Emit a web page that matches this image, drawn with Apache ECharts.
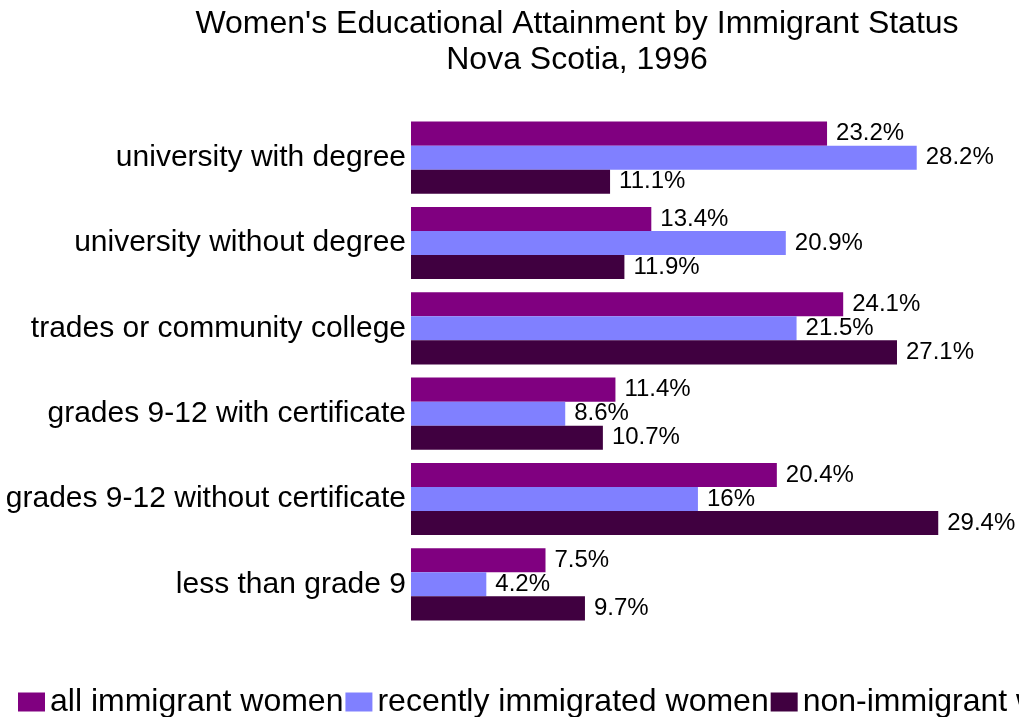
<!DOCTYPE html>
<html>
<head>
<meta charset="utf-8">
<script src="https://cdn.jsdelivr.net/npm/echarts@6/dist/echarts.min.js"></script>
<style>
  html, body { margin: 0; padding: 0; background: #ffffff; }
  #chart { width: 1019px; height: 717px; }
</style>
</head>
<body>
<div id="chart"></div>
<script>
// Education levels, listed top to bottom
const categories = [
  'university with degree',
  'university without degree',
  'trades or community college',
  'grades 9-12 with certificate',
  'grades 9-12 without certificate',
  'less than grade 9'
];

// Share of women (%) at each level
const seriesNames = ['all immigrant women', 'recently immigrated women', 'non-immigrant women'];
const allImmigrant = [23.2, 13.4, 24.1, 11.4, 20.4, 7.5];
const recentImmigrant = [28.2, 20.9, 21.5, 8.6, 16, 4.2];
const nonImmigrant = [11.1, 11.9, 27.1, 10.7, 29.4, 9.7];
const seriesColors = ['#800080', '#8080FF', '#400040'];

const FONT = '"Liberation Sans", Arial, sans-serif';

const chart = echarts.init(document.getElementById('chart'), null, { renderer: 'canvas' });

const makeSeries = (name, data, color) => ({
  name: name,
  type: 'bar',
  data: data,
  barGap: '0%',
  barCategoryGap: '15.5%',
  itemStyle: { color: color },
  label: {
    show: true,
    position: 'right',
    distance: 9,
    formatter: '{c}%',
    color: '#000000',
    fontFamily: FONT,
    fontSize: 24
  },
  emphasis: { disabled: true },
  animation: false
});

chart.setOption({
  backgroundColor: '#ffffff',
  animation: false,
  title: {
    text: "Women's Educational Attainment by Immigrant Status\nNova Scotia, 1996",
    left: 577,
    top: 6,
    padding: 0,
    textAlign: 'center',
    textStyle: {
      fontFamily: FONT,
      fontSize: 32,
      fontWeight: 'normal',
      lineHeight: 36,
      color: '#000000',
      align: 'center'
    }
  },
  legend: {
    data: seriesNames,
    left: 18,
    top: 686,
    width: 2000,
    padding: 0,
    itemWidth: 27,
    itemHeight: 19,
    itemGap: 2,
    icon: 'rect',
    selectedMode: false,
    textStyle: {
      fontFamily: FONT,
      fontSize: 32,
      color: '#000000'
    }
  },
  grid: {
    left: 411,
    top: 115,
    width: 538,
    height: 512,
    containLabel: false
  },
  xAxis: {
    type: 'value',
    min: 0,
    max: 30,
    show: false
  },
  yAxis: {
    type: 'category',
    data: categories,
    inverse: true,
    axisLine: { show: false },
    axisTick: { show: false },
    splitLine: { show: false },
    axisLabel: {
      margin: 5,
      padding: [4, 0, 0, 0],
      fontFamily: FONT,
      fontSize: 30,
      color: '#000000'
    }
  },
  series: [
    makeSeries(seriesNames[0], allImmigrant, seriesColors[0]),
    makeSeries(seriesNames[1], recentImmigrant, seriesColors[1]),
    makeSeries(seriesNames[2], nonImmigrant, seriesColors[2])
  ]
});
</script>
</body>
</html>
